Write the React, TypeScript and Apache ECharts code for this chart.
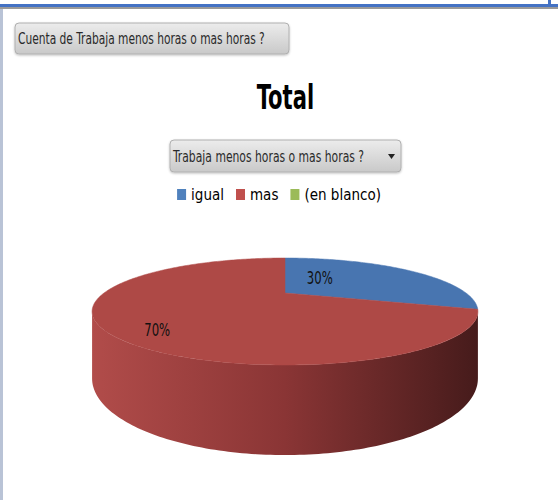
import React, { useEffect, useRef } from "react";
import * as echarts from "echarts";

const CATEGORIES = ["igual", "mas", "(en blanco)"];
const VALUES = [3, 7, 0];
const TOP_COLORS = ["#4875b0", "#ae4946", "#8fac52"];
const LEGEND_COLORS = ["#4f81bd", "#c0504d", "#9bbb59"];
const TITLE = "Total";
const FIELD_BUTTON = "Cuenta de Trabaja menos horas o mas horas ?";
const AXIS_BUTTON = "Trabaja menos horas o mas horas ?";

const FONT = "'DejaVu Sans Condensed', 'DejaVu Sans', sans-serif";

// projection (style)
const CX = 285, CY = 293, RA = 181, RB = 47.1, K = 0.346, DEPTH = 58.9;
const LABEL_R = [0.42, 0.83, 0.6];
const LABEL_DA = [-23, -12, 0];

function proj(theta: number, r: number, drop: number): number[] {
  const X = r * Math.sin(theta);
  const Y = -r * Math.cos(theta);
  const w = 1 - K * Y;
  return [CX + (RA * X) / w, CY + (RB * Y) / w + drop / w];
}

const TOTAL = VALUES.reduce((a, b) => a + b, 0);

function makeRender(idx: number) {
  return (params: any, api: any) => {
    const v = api.value(0);
    if (!v) return { type: "group", children: [] };
    let before = 0;
    for (let i = 0; i < idx; i++) before += VALUES[i];
    const t0 = (before / TOTAL) * Math.PI * 2;
    const t1 = ((before + v) / TOTAL) * Math.PI * 2;
    const children: any[] = [];
    const vis0 = Math.acos(-K);
    const vis1 = Math.PI * 2 - vis0;
    const s0 = Math.max(t0, vis0);
    const s1 = Math.min(t1, vis1);
    if (s1 > s0) {
      const pts: number[][] = [];
      const n = Math.max(2, Math.ceil(((s1 - s0) * 180) / Math.PI));
      for (let i = 0; i <= n; i++) pts.push(proj(s0 + ((s1 - s0) * i) / n, 1, 0));
      for (let i = n; i >= 0; i--) pts.push(proj(s0 + ((s1 - s0) * i) / n, 1, DEPTH));
      children.push({
        type: "polygon",
        shape: { points: pts },
        style: {
          fill: new echarts.graphic.LinearGradient(
            CX - RA * 1.066, 0, CX + RA * 1.066, 0,
            [
              { offset: 0, color: "#b14c4a" },
              { offset: 0.5, color: "#8a3535" },
              { offset: 1, color: "#461b1b" },
            ],
            true
          ),
        },
      });
    }
    const top: number[][] = [proj(0, 0, 0)];
    const m = Math.max(2, Math.ceil(((t1 - t0) * 180) / Math.PI));
    for (let i = 0; i <= m; i++) top.push(proj(t0 + ((t1 - t0) * i) / m, 1, 0));
    children.push({
      type: "polygon",
      shape: { points: top },
      style: { fill: TOP_COLORS[idx], stroke: TOP_COLORS[idx], lineWidth: 0.5 },
    });
    const mid = (t0 + t1) / 2 + (LABEL_DA[idx] * Math.PI) / 180;
    const lp = proj(mid, LABEL_R[idx], 0);
    children.push({
      type: "text",
      x: lp[0],
      y: lp[1],
      scaleX: 0.72,
      style: {
        text: Math.round((v / TOTAL) * 100) + "%",
        align: "center",
        verticalAlign: "middle",
        fontSize: 18,
        fontFamily: FONT,
        fill: "#111",
      },
    });
    return { type: "group", children };
  };
}

function button(x: number, y: number, w: number, h: number, text: string, arrow: boolean, sx: number) {
  const ch: any[] = [
    {
      type: "rect",
      shape: { x, y, width: w, height: h, r: 4 },
      style: {
        fill: new echarts.graphic.LinearGradient(0, 0, 0, 1, [
          { offset: 0, color: "#ececec" },
          { offset: 1, color: "#c9c9c9" },
        ]),
        stroke: "#b0b0b0",
        lineWidth: 1,
        shadowBlur: 2,
        shadowColor: "rgba(0,0,0,0.25)",
        shadowOffsetY: 1,
      },
    },
    {
      type: "text",
      x: x + 3,
      y: y + h / 2,
      scaleX: sx,
      style: { text, fontSize: 15, fontFamily: FONT, fill: "#2a2a2a", verticalAlign: "middle" },
    },
  ];
  if (arrow) {
    ch.push({
      type: "polygon",
      shape: { points: [[x + w - 13, y + h / 2 - 2], [x + w - 6, y + h / 2 - 2], [x + w - 9.5, y + h / 2 + 3]] },
      style: { fill: "#222" },
    });
  }
  return ch;
}

export default function App() {
  const ref = useRef<HTMLDivElement>(null);
  useEffect(() => {
    if (!ref.current) return;
    const chart = echarts.init(ref.current, undefined, { renderer: "svg" });
    chart.setOption({
      animation: false,
      backgroundColor: "#ffffff",
      legend: {
        data: CATEGORIES,
        left: "center",
        top: 182,
        icon: "rect",
        itemWidth: 9,
        itemHeight: 11,
        itemGap: 12,
        textStyle: { fontSize: 15, fontFamily: FONT, color: "#000" },
      },
      graphic: [
        { type: "rect", shape: { x: 0, y: 4, width: 558, height: 3 }, style: { fill: "#4472c4" } },
        { type: "rect", shape: { x: 0, y: 7, width: 558, height: 2 }, style: { fill: "#9a9a9a" } },
        { type: "rect", shape: { x: 548, y: 0, width: 3, height: 5 }, style: { fill: "#4472c4" } },
        { type: "rect", shape: { x: 0, y: 9, width: 3, height: 491 }, style: { fill: "#b9c3d6" } },
        ...button(15, 23, 274, 31, FIELD_BUTTON, false, 0.79),
        ...button(170, 140, 231, 32, AXIS_BUTTON, true, 0.8),
        {
          type: "text",
          x: 285.5,
          y: 97,
          scaleX: 0.69,
          style: {
            text: TITLE,
            align: "center",
            verticalAlign: "middle",
            fontSize: 34,
            fontWeight: "bold",
            fontFamily: FONT,
            fill: "#000",
          },
        },
      ],
      series: CATEGORIES.map((name, i) => ({
        type: "custom",
        name,
        coordinateSystem: "none",
        itemStyle: { color: LEGEND_COLORS[i] },
        data: [{ name, value: VALUES[i] }],
        renderItem: makeRender(i),
      })),
    });
    return () => chart.dispose();
  }, []);
  return (
    <div
      ref={ref}
      style={{ position: "fixed", left: 0, top: 0, width: 558, height: 500 }}
    />
  );
}
